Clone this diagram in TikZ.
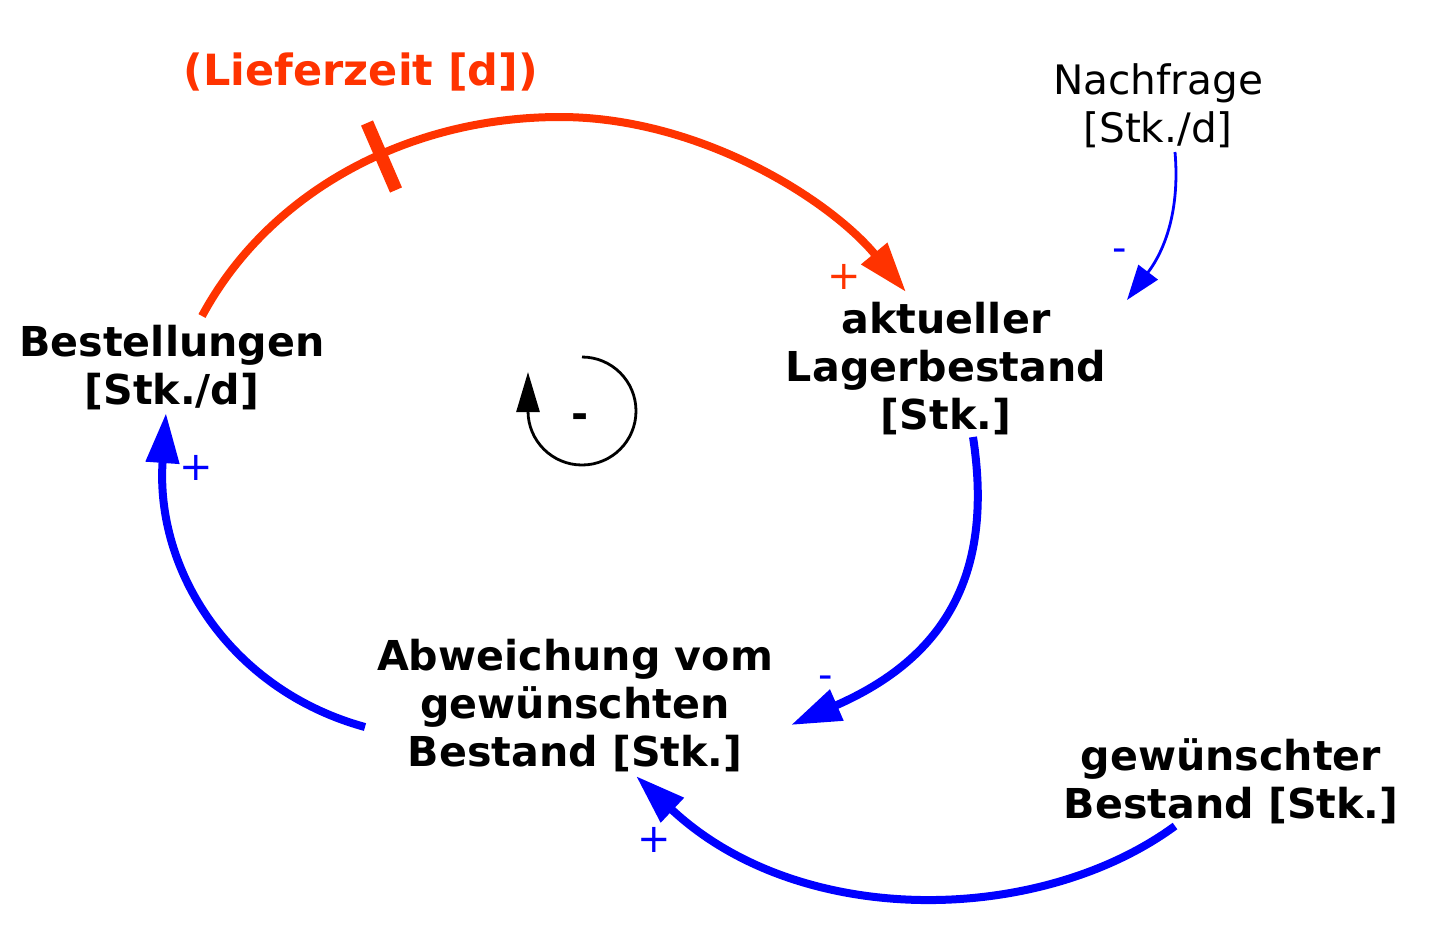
\documentclass[tikz,border=0pt]{standalone}
\usepackage{fontspec}
\setmainfont{DejaVu Sans}
\usetikzlibrary{arrows.meta}
\definecolor{cred}{HTML}{FF3300}
\definecolor{cblue}{HTML}{0000FF}
\begin{document}
\begin{tikzpicture}[x=0.5pt,y=-0.5pt,
  var/.style={font=\fontsize{20.6}{24}\selectfont\bfseries, align=center, inner sep=0pt},
  plainvar/.style={font=\fontsize{20.3}{24}\selectfont, align=center, inner sep=0pt},
  pol/.style={font=\fontsize{20}{24}\selectfont, inner sep=0pt},
  bigflow/.style={line width=4pt, -{Triangle[length=25pt,width=16pt]}},
  thinflow/.style={line width=1.4pt, -{Triangle[length=17.5pt,width=12pt]}},
  looparrow/.style={line width=1.4pt, -{Triangle[length=20pt,width=11.5pt]}}]
\useasboundingbox (0,0) rectangle (1445,939);
\fill[white] (0,0) rectangle (1445,939);

% variables
\node[var, text=cred, font=\fontsize{21.5}{24}\selectfont\bfseries] (liefer) at (361,72) {(Lieferzeit [d])};
\node[var] (best) at (172,368) {Bestellungen\\{[Stk./d]}};
\node[var] (lager) at (946,369) {aktueller\\Lagerbestand\\{[Stk.]}};
\node[plainvar] (nach) at (1158,106) {Nachfrage\\{[Stk./d]}};
\node[var] (abw) at (575,706) {Abweichung vom\\gewünschten\\Bestand [Stk.]};
\node[var] (gew) at (1231,781) {gewünschter\\Bestand [Stk.]};

% connector end points
\coordinate (bestTop) at (202,316);
\coordinate (lagerIn) at (906,292);
\coordinate (lagerOut) at (973,437);
\coordinate (abwIn) at (791,725);
\coordinate (abwOut) at (365,727);
\coordinate (bestIn) at (166,413);
\coordinate (gewOut) at (1175,826);
\coordinate (abwIn2) at (636,776);
\coordinate (nachOut) at (1175,152);
\coordinate (lagerIn2) at (1127,300);
\coordinate (delayA) at (367,123);
\coordinate (delayB) at (396,190);

% connectors
\draw[bigflow, cred] (bestTop) .. controls (270,190) and (410,117) .. (560,117)
   .. controls (700,117) and (830,200) .. (lagerIn);
\draw[cred, line width=6.5pt] (delayA) -- (delayB);
\draw[bigflow, cblue] (lagerOut) .. controls (995,580) and (940,660) .. (abwIn);
\draw[bigflow, cblue] (abwOut) .. controls (230,690) and (155,570) .. (bestIn);
\draw[bigflow, cblue] (gewOut) .. controls (1040,925) and (800,930) .. (abwIn2);
\draw[thinflow, cblue] (nachOut) .. controls (1180,210) and (1165,250) .. (lagerIn2);

% polarities
\node[pol, text=cred] (p1) at (844,277) {+};
\node[pol, text=cblue] (p2) at (1120,255) {-};
\node[pol, text=cblue] (p3) at (196,468) {+};
\node[pol, text=cblue] (p4) at (826,682) {-};
\node[pol, text=cblue] (p5) at (654,840) {+};

% loop symbol
\coordinate (loopStart) at (582,357);
\draw[looparrow] (loopStart) arc[start angle=-90, end angle=180, radius=54] -- ++(0,-39);
\node[var] (loopsign) at (580,421) {-};
\end{tikzpicture}
\end{document}
